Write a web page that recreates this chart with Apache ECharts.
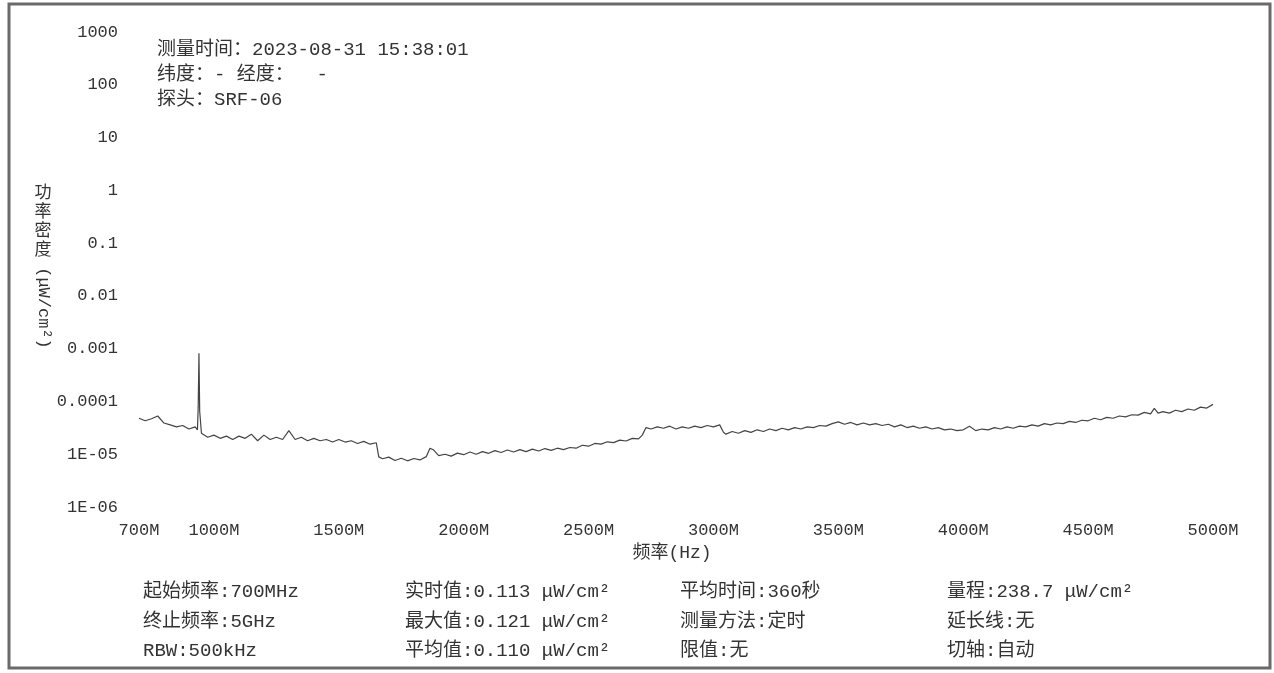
<!DOCTYPE html>
<html>
<head>
<meta charset="utf-8">
<title>频谱测量</title>
<script src="https://cdn.jsdelivr.net/npm/echarts@6/dist/echarts.min.js"></script>
<style>
  html, body { margin: 0; padding: 0; background: #ffffff; }
  #chart { width: 1274px; height: 673px; }
</style>
</head>
<body>
<div id="chart"></div>
<script>
// Sweep frequencies (MHz) and measured power density (μW/cm²)
const freqMHz = [
  700, 725, 750, 775, 800, 825, 850, 875, 900, 925, 934, 937, 940, 943, 950, 975,
  1000, 1025, 1050, 1075, 1100, 1125, 1150, 1175, 1200, 1225, 1250, 1275, 1300, 1325, 1350, 1375,
  1400, 1425, 1450, 1475, 1500, 1525, 1550, 1575, 1600, 1625, 1650, 1660, 1675, 1700, 1725, 1750,
  1775, 1800, 1825, 1850, 1865, 1880, 1900, 1925, 1950, 1975, 2000, 2025, 2050, 2075, 2100, 2125,
  2150, 2175, 2200, 2225, 2250, 2275, 2300, 2325, 2350, 2375, 2400, 2425, 2450, 2475, 2500, 2525,
  2550, 2575, 2600, 2625, 2650, 2675, 2700, 2715, 2730, 2750, 2775, 2800, 2825, 2850, 2875, 2900,
  2925, 2950, 2975, 3000, 3025, 3040, 3050, 3075, 3100, 3125, 3150, 3175, 3200, 3225, 3250, 3275,
  3300, 3325, 3350, 3375, 3400, 3425, 3450, 3475, 3500, 3525, 3550, 3575, 3600, 3625, 3650, 3675,
  3700, 3725, 3750, 3775, 3800, 3825, 3850, 3875, 3900, 3925, 3950, 3975, 4000, 4025, 4050, 4075,
  4100, 4125, 4150, 4175, 4200, 4225, 4250, 4275, 4300, 4325, 4350, 4375, 4400, 4425, 4450, 4475,
  4500, 4525, 4550, 4575, 4600, 4625, 4650, 4675, 4700, 4725, 4750, 4765, 4780, 4800, 4825, 4850,
  4875, 4900, 4925, 4950, 4975, 5000
];
const powerDensity = [
  4.8e-5, 4.3e-5, 4.7e-5, 5.3e-5, 3.9e-5, 3.6e-5, 3.3e-5, 3.5e-5, 3.0e-5, 3.3e-5, 2.9e-5, 7.8e-5, 8.2e-4, 6.5e-5, 2.5e-5, 2.1e-5,
  2.3e-5, 2.0e-5, 2.2e-5, 1.9e-5, 2.2e-5, 2.0e-5, 2.4e-5, 1.8e-5, 2.3e-5, 1.9e-5, 2.1e-5, 1.9e-5, 2.8e-5, 1.9e-5, 2.1e-5, 1.8e-5,
  2.0e-5, 1.8e-5, 1.9e-5, 1.7e-5, 1.9e-5, 1.7e-5, 1.8e-5, 1.6e-5, 1.75e-5, 1.55e-5, 1.65e-5, 8.9e-6, 8.2e-6, 8.8e-6, 7.6e-6, 8.4e-6,
  7.5e-6, 8.3e-6, 7.8e-6, 9.0e-6, 1.3e-5, 1.2e-5, 9.4e-6, 1.0e-5, 9.2e-6, 1.05e-5, 9.8e-6, 1.1e-5, 1.0e-5, 1.12e-5, 1.04e-5, 1.17e-5,
  1.08e-5, 1.2e-5, 1.1e-5, 1.22e-5, 1.12e-5, 1.25e-5, 1.15e-5, 1.28e-5, 1.18e-5, 1.3e-5, 1.22e-5, 1.34e-5, 1.3e-5, 1.48e-5, 1.42e-5, 1.6e-5,
  1.55e-5, 1.72e-5, 1.66e-5, 1.85e-5, 1.78e-5, 2.0e-5, 1.95e-5, 2.3e-5, 3.2e-5, 3.0e-5, 3.3e-5, 3.1e-5, 3.4e-5, 3.0e-5, 3.3e-5, 3.1e-5,
  3.4e-5, 3.2e-5, 3.5e-5, 3.3e-5, 3.6e-5, 2.6e-5, 2.4e-5, 2.7e-5, 2.5e-5, 2.8e-5, 2.6e-5, 2.9e-5, 2.7e-5, 3.0e-5, 2.8e-5, 3.1e-5,
  2.9e-5, 3.2e-5, 3.0e-5, 3.3e-5, 3.2e-5, 3.5e-5, 3.4e-5, 3.8e-5, 4.1e-5, 3.7e-5, 4.0e-5, 3.6e-5, 3.9e-5, 3.6e-5, 3.8e-5, 3.5e-5,
  3.7e-5, 3.3e-5, 3.6e-5, 3.2e-5, 3.4e-5, 3.1e-5, 3.3e-5, 3.0e-5, 3.2e-5, 2.9e-5, 3.0e-5, 2.8e-5, 2.9e-5, 3.4e-5, 2.8e-5, 3.0e-5,
  2.9e-5, 3.2e-5, 3.0e-5, 3.3e-5, 3.1e-5, 3.4e-5, 3.3e-5, 3.6e-5, 3.4e-5, 3.8e-5, 3.6e-5, 3.9e-5, 3.8e-5, 4.2e-5, 4.0e-5, 4.4e-5,
  4.3e-5, 4.8e-5, 4.5e-5, 5.0e-5, 4.8e-5, 5.3e-5, 5.1e-5, 5.6e-5, 5.5e-5, 6.2e-5, 5.8e-5, 7.4e-5, 6.0e-5, 6.4e-5, 6.0e-5, 6.8e-5,
  6.4e-5, 7.2e-5, 6.8e-5, 7.8e-5, 7.5e-5, 8.8e-5
];

// Axis tick positions and label texts
const xTickValues = [700, 1000, 1500, 2000, 2500, 3000, 3500, 4000, 4500, 5000];
const yTickLabels = ['1E-06', '1E-05', '0.0001', '0.001', '0.01', '0.1', '1', '10', '100', '1000'];

// Header and footer text
const headerLines = ['测量时间：2023-08-31 15:38:01', '纬度：- 经度：  -', '探头：SRF-06'];
const footerColumns = [
  ['起始频率:700MHz', '终止频率:5GHz', 'RBW:500kHz'],
  ['实时值:0.113 μW/cm²', '最大值:0.121 μW/cm²', '平均值:0.110 μW/cm²'],
  ['平均时间:360秒', '测量方法:定时', '限值:无'],
  ['量程:238.7 μW/cm²', '延长线:无', '切轴:自动']
];

const FONT = '"Liberation Mono", "Noto Sans CJK SC", monospace';
const TEXT_COLOR = '#333333';

const lineData = freqMHz.map((f, i) => [f, powerDensity[i]]);

const graphics = [];
// outer frame
graphics.push({
  type: 'rect', silent: true,
  shape: { x: 9, y: 4, width: 1261, height: 664 },
  style: { fill: null, stroke: '#6a6a6a', lineWidth: 3 }
});
// header block
headerLines.forEach((t, i) => {
  graphics.push({
    type: 'text', x: 157, y: 50 + i * 25,
    style: { text: t, font: '19px ' + FONT, fill: TEXT_COLOR, verticalAlign: 'middle' }
  });
});
// y-axis name: upright CJK characters followed by the rotated unit
graphics.push({
  type: 'text', x: 43, y: 222,
  style: { text: '功\n率\n密\n度', font: '17px ' + FONT, fill: TEXT_COLOR,
           align: 'center', verticalAlign: 'middle', lineHeight: 19 }
});
graphics.push({
  type: 'text', x: 43, y: 308, rotation: -Math.PI / 2,
  style: { text: '(μW/cm²)', font: '17px ' + FONT, fill: TEXT_COLOR,
           align: 'center', verticalAlign: 'middle' }
});
// x-axis name
graphics.push({
  type: 'text', x: 672, y: 553,
  style: { text: '频率(Hz)', font: '18px ' + FONT, fill: TEXT_COLOR,
           align: 'center', verticalAlign: 'middle' }
});
// footer table
const colX = [143, 405, 680, 947];
const rowY = [592, 622, 651];
footerColumns.forEach((col, c) => {
  col.forEach((t, r) => {
    graphics.push({
      type: 'text', x: colX[c], y: rowY[r],
      style: { text: t, font: '19px ' + FONT, fill: TEXT_COLOR, verticalAlign: 'middle' }
    });
  });
});

const chart = echarts.init(document.getElementById('chart'), null, { renderer: 'canvas' });
chart.setOption({
  animation: false,
  backgroundColor: '#ffffff',
  grid: { left: 139, right: 61, top: 32, bottom: 166, containLabel: false },
  xAxis: {
    type: 'value', min: 700, max: 5000,
    axisLine: { show: false },
    axisTick: { show: false },
    splitLine: { show: false },
    axisLabel: {
      customValues: xTickValues,
      formatter: v => v + 'M',
      margin: 15,
      color: TEXT_COLOR, fontSize: 17, fontFamily: FONT
    }
  },
  yAxis: {
    type: 'log', logBase: 10, min: 1e-6, max: 1000,
    axisLine: { show: false },
    axisTick: { show: false },
    splitLine: { show: false },
    axisLabel: {
      margin: 21,
      color: TEXT_COLOR, fontSize: 17, fontFamily: FONT,
      formatter: v => yTickLabels[Math.round(Math.log10(v)) + 6]
    }
  },
  series: [{
    type: 'line',
    data: lineData,
    showSymbol: false,
    lineStyle: { color: '#444444', width: 1.2 },
    itemStyle: { color: '#444444' }
  }],
  graphic: graphics
});
</script>
</body>
</html>
